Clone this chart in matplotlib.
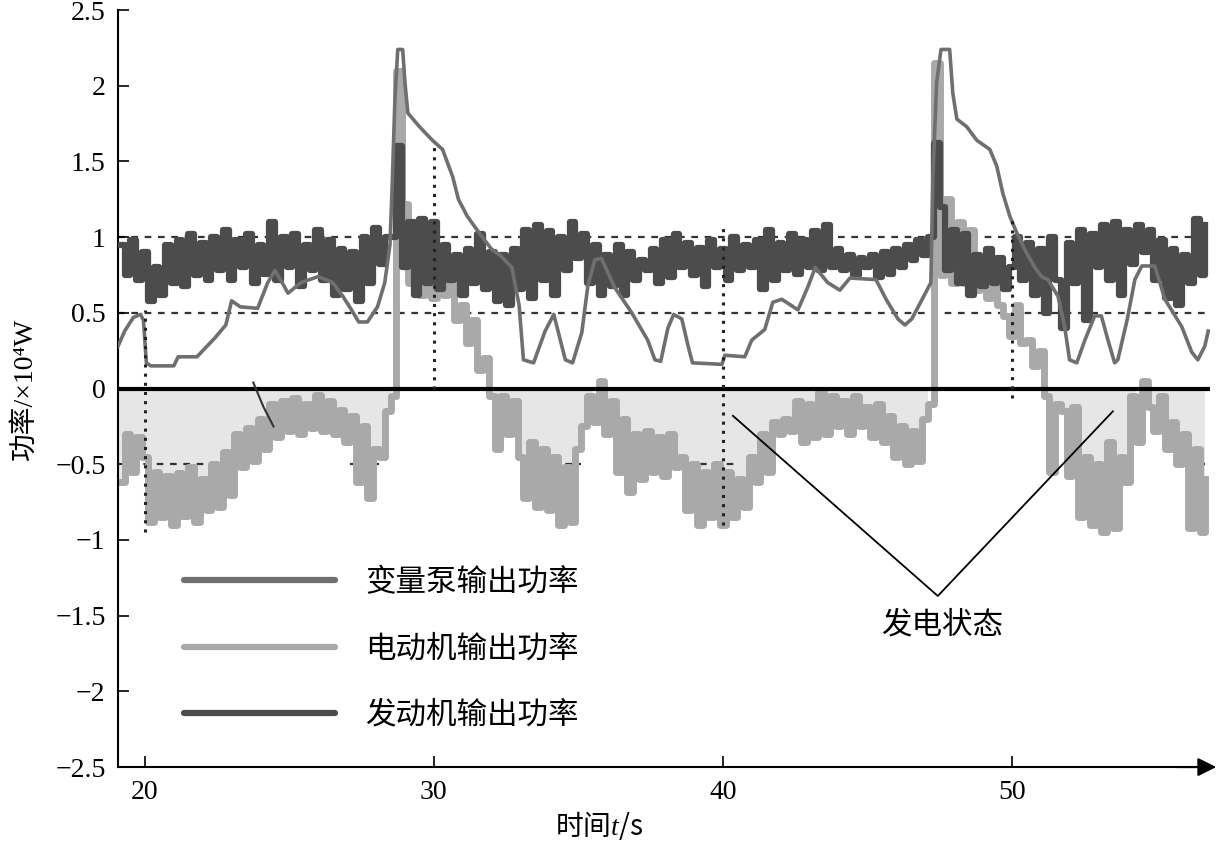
import numpy as np
import matplotlib
matplotlib.use("Agg")
import matplotlib.pyplot as plt

plt.rcParams["font.family"] = ["Liberation Serif", "Noto Sans CJK SC"]
plt.rcParams["mathtext.fontset"] = "custom"
plt.rcParams["mathtext.it"] = "Liberation Serif:italic"
plt.rcParams["mathtext.rm"] = "Liberation Serif"

# Variable pump output power (key points)
pump_t = [19.07, 19.3, 19.6, 19.85, 19.95, 20.05, 20.2, 21.0, 21.15, 21.8,
          22.4, 22.8, 23.0, 23.3, 23.9, 24.25, 24.5, 24.75, 24.95, 25.4,
          26.0, 26.5, 26.85, 27.15, 27.4, 27.7, 28.05, 28.3, 28.48, 28.55,
          28.65, 28.75, 28.92, 29.0, 29.1, 29.5, 29.95, 30.3, 30.65, 30.85,
          31.15, 31.6, 32.0, 32.3, 32.7, 32.95, 33.1, 33.45, 33.85, 34.15,
          34.55, 34.8, 35.12, 35.33, 35.57, 35.8, 36.25, 36.85, 37.4, 37.65,
          37.85, 38.1, 38.3, 38.58, 38.8, 38.95, 39.97, 40.07, 40.76, 41.0,
          41.45, 41.73, 42.04, 42.6, 42.94, 43.2, 43.63, 44.05, 44.4, 45.3,
          45.65, 46.06, 46.3, 46.54, 46.9, 47.2, 47.27, 47.4, 47.55, 47.85,
          47.96, 48.1, 48.44, 48.79, 49.24, 49.48, 49.69, 49.93, 50.17, 50.5,
          50.8, 51.03, 51.25, 51.6, 51.83, 52.0, 52.25, 52.53, 52.87, 53.1,
          53.33, 53.56, 53.67, 54.0, 54.26, 54.5, 54.95, 55.3, 55.88, 56.23,
          56.44, 56.68, 56.8]
pump_v = [0.28, 0.38, 0.47, 0.49, 0.45, 0.17, 0.15, 0.15, 0.21, 0.21,
          0.33, 0.42, 0.58, 0.54, 0.53, 0.70, 0.78, 0.70, 0.63, 0.70,
          0.74, 0.70, 0.61, 0.52, 0.44, 0.44, 0.54, 0.70, 0.95, 1.30,
          1.90, 2.24, 2.24, 2.02, 1.82, 1.73, 1.64, 1.58, 1.40, 1.25,
          1.14, 1.02, 0.92, 0.88, 0.80, 0.55, 0.19, 0.17, 0.38, 0.49,
          0.19, 0.17, 0.37, 0.68, 0.85, 0.86, 0.67, 0.50, 0.32, 0.19,
          0.18, 0.40, 0.49, 0.46, 0.28, 0.17, 0.16, 0.22, 0.21, 0.32,
          0.39, 0.57, 0.59, 0.52, 0.67, 0.80, 0.70, 0.65, 0.73, 0.72,
          0.59, 0.46, 0.42, 0.46, 0.59, 0.70, 1.40, 2.02, 2.24, 2.24,
          1.95, 1.78, 1.73, 1.64, 1.58, 1.47, 1.29, 1.14, 1.03, 0.90,
          0.80, 0.74, 0.72, 0.61, 0.41, 0.19, 0.17, 0.32, 0.48, 0.48,
          0.32, 0.17, 0.19, 0.46, 0.72, 0.81, 0.81, 0.59, 0.41, 0.24,
          0.19, 0.28, 0.38]

# Engine and motor output power, sampled every 0.2 s from 19.1 s
sample_start = 19.1
sample_step = 0.2
engine_v = [0.95, 0.75, 0.98, 0.72, 0.90,
            0.58, 0.80, 0.62, 0.95, 0.70,
            0.98, 0.68, 1.02, 0.75, 0.96,
            0.72, 1.00, 0.78, 1.05, 0.72,
            0.98, 0.80, 1.02, 0.70, 0.95,
            0.76, 1.10, 0.72, 1.00, 0.80,
            1.02, 0.68, 0.95, 0.78, 1.05,
            0.72, 0.98, 0.62, 0.92, 0.66,
            0.90, 0.58, 1.00, 0.70, 1.06,
            0.82, 1.00, 1.00, 1.60, 0.80,
            1.10, 0.62, 1.12, 0.70, 1.10,
            0.66, 0.95, 0.72, 0.88, 0.62,
            0.92, 0.70, 1.02, 0.66, 0.90,
            0.58, 0.88, 0.55, 0.92, 0.66,
            1.05, 0.60, 1.08, 0.72, 1.04,
            0.62, 1.00, 0.78, 1.10, 0.86,
            1.02, 0.70, 0.95, 0.62, 0.88,
            0.68, 0.95, 0.62, 0.90, 0.72,
            0.85, 0.78, 0.92, 0.70, 0.98,
            0.74, 1.02, 0.80, 0.96, 0.75,
            0.93, 0.68, 0.98, 0.80, 0.92,
            0.72, 1.00, 0.78, 0.95, 0.80,
            0.98, 0.66, 1.05, 0.72, 0.96,
            0.78, 1.02, 0.76, 0.98, 0.80,
            1.04, 0.78, 1.08, 0.80, 0.92,
            0.78, 0.88, 0.75, 0.86, 0.80,
            0.88, 0.74, 0.90, 0.76, 0.92,
            0.80, 0.95, 0.85, 0.98, 0.88,
            1.00, 1.62, 1.20, 0.78, 1.05,
            0.70, 1.02, 0.62, 0.88, 0.68,
            0.92, 0.70, 0.86, 0.66, 0.80,
            1.00, 0.72, 0.96, 0.62, 0.92,
            0.50, 1.00, 0.72, 0.40, 0.96,
            0.70, 1.05, 0.45, 1.02, 0.80,
            1.08, 0.72, 1.10, 0.62, 1.05,
            0.82, 1.08, 0.90, 1.05, 0.72,
            0.98, 0.60, 0.92, 0.55, 0.88,
            0.70, 1.12, 0.75, 1.08]
motor_v = [-0.62, -0.30, -0.55, -0.32, -0.45,
           -0.88, -0.55, -0.85, -0.58, -0.90,
           -0.56, -0.84, -0.52, -0.88, -0.60,
           -0.80, -0.50, -0.78, -0.42, -0.70,
           -0.30, -0.52, -0.26, -0.48, -0.20,
           -0.40, -0.10, -0.32, -0.08, -0.28,
           -0.06, -0.30, -0.10, -0.26, -0.04,
           -0.28, -0.08, -0.30, -0.14, -0.35,
           -0.18, -0.62, -0.25, -0.72, -0.40,
           -0.45, -0.15, -0.05, 2.10, 1.22,
           0.70, 1.10, 0.62, 1.05, 0.60,
           0.95, 0.62, 0.80, 0.45, 0.55,
           0.30, 0.45, 0.12, 0.20, -0.05,
           -0.40, -0.05, -0.30, -0.08, -0.45,
           -0.72, -0.35, -0.78, -0.40, -0.80,
           -0.45, -0.90, -0.52, -0.88, -0.40,
           -0.25, -0.05, -0.22, 0.05, -0.30,
           -0.08, -0.55, -0.20, -0.68, -0.30,
           -0.60, -0.28, -0.55, -0.32, -0.58,
           -0.30, -0.52, -0.45, -0.80, -0.50,
           -0.90, -0.55, -0.85, -0.50, -0.90,
           -0.55, -0.85, -0.60, -0.78, -0.45,
           -0.62, -0.30, -0.55, -0.22, -0.30,
           -0.20, -0.28, -0.08, -0.35, -0.10,
           -0.32, -0.02, -0.30, -0.05, -0.25,
           -0.08, -0.30, -0.05, -0.25, -0.12,
           -0.32, -0.10, -0.35, -0.18, -0.45,
           -0.25, -0.50, -0.28, -0.48, -0.20,
           -0.10, 2.15, 0.75, 1.25, 0.70,
           1.10, 0.70, 1.05, 0.65, 0.85,
           0.60, 0.75, 0.55, 0.48, 0.35,
           0.55, 0.30, 0.32, 0.15, 0.25,
           -0.05, -0.55, -0.10, -0.15, -0.58,
           -0.12, -0.85, -0.45, -0.90, -0.50,
           -0.95, -0.35, -0.92, -0.45, -0.62,
           -0.05, -0.35, 0.05, -0.12, -0.28,
           -0.05, -0.40, -0.22, -0.50, -0.30,
           -0.92, -0.40, -0.95, -0.60]

# short dark trace near 24 s
trace_t = [23.75, 24.1, 24.45]
trace_v = [0.04, -0.12, -0.25]

# dotted sampling marks
mark_x = [20, 30, 40, 50]
mark_top = [0.52, 1.62, 1.06, 1.12]
mark_bottom = [-0.95, 0.0, -0.9, -0.06]

# dashed reference levels
ref_levels = [1.0, 0.5]
neg_dash_start = [19.5, 27.1, 34.1, 39.2, 53.2, 56.5]
neg_dash_end = [23.3, 28.1, 35.1, 40.6, 53.6, 56.7]

# annotation of generating state
note_x = [40.35, 47.44, 53.5]
note_y = [-0.18, -1.37, -0.15]

labels = ["变量泵输出功率", "电动机输出功率", "发动机输出功率"]
ytick_vals = [2.5, 2, 1.5, 1, 0.5, 0, -0.5, -1, -1.5, -2, -2.5]
ytick_labels = ["2.5", "2", "1.5", "1", "0.5", "0", "\u22120.5", "\u22121",
                "\u22121.5", "\u22122", "\u22122.5"]
xtick_vals = [20, 30, 40, 50]

c_pump = "#6f6f6f"
c_motor = "#a9a9a9"
c_engine = "#4c4c4c"

t_s = sample_start + sample_step * np.arange(len(engine_v))
motor = np.array(motor_v)

fig = plt.figure(figsize=(12.17, 8.42), dpi=100)
ax = fig.add_axes([0.097, 0.089, 0.897, 0.899])

ax.fill_between(t_s, motor, 0, where=motor <= 0, step="post",
                color="#e6e6e6", lw=0, zorder=1)

for lv in ref_levels:
    ax.axhline(lv, color="#333333", lw=1.6, ls=(0, (3, 3)), zorder=1.5)
ax.hlines([-0.5] * len(neg_dash_start), neg_dash_start, neg_dash_end,
          color="#333333", lw=1.6, ls=(0, (3, 3)), zorder=1.5)

ax.plot(t_s, motor_v, drawstyle="steps-post", color=c_motor, lw=5,
        zorder=2, label=labels[1])
ax.plot(t_s, engine_v, drawstyle="steps-post", color=c_engine, lw=4.5,
        zorder=3, label=labels[2])
ax.plot(pump_t, pump_v, color=c_pump, lw=2.6, zorder=4, label=labels[0])

ax.axhline(0, color="black", lw=3, zorder=5)
ax.plot(trace_t, trace_v, color="#333333", lw=1.5, zorder=5)

ax.vlines(mark_x, mark_bottom, mark_top, color="#222222", lw=2.2,
          ls=(0, (1, 2)), zorder=6)

ax.plot(note_x, note_y, color="black", lw=1.3, zorder=6)
ax.text(47.6, -1.57, "发电状态", fontsize=22, ha="center", va="center")

# legend
handles, labs = ax.get_legend_handles_labels()
order = [2, 0, 1]
leg = ax.legend([handles[i] for i in order], [labs[i] for i in order],
                loc="upper left", bbox_to_anchor=(0.06, 0.262), frameon=False,
                fontsize=22, handlelength=4.97, handletextpad=0.98,
                labelspacing=1.22, borderpad=0, borderaxespad=0)
for ln in leg.get_lines():
    ln.set_linewidth(4.5)
    ln.set_solid_capstyle("round")

ax.set_xlim(19.07, 56.85)
ax.set_ylim(-2.5, 2.5)
ax.set_yticks(ytick_vals)
ax.set_yticklabels(ytick_labels)
ax.set_xticks(xtick_vals)
ax.tick_params(direction="in", length=8, width=1.2, labelsize=20, pad=9)

for s in ["top", "right"]:
    ax.spines[s].set_visible(False)
for s in ["left", "bottom"]:
    ax.spines[s].set_linewidth(1.5)

ax.annotate("", xy=(1.006, 0), xycoords="axes fraction", xytext=(0.97, 0),
            arrowprops=dict(arrowstyle="-|>", color="black", lw=1.5,
                            mutation_scale=28, shrinkA=0, shrinkB=0))

ax.set_ylabel("功率/×10⁴W", fontsize=20)
ax.yaxis.set_label_coords(-0.074, 0.5)
ax.set_xlabel("时间$t$/s", fontsize=20, family="Noto Sans CJK SC")
ax.xaxis.set_label_coords(0.441, -0.055)

fig.savefig("out.png", dpi=100)
